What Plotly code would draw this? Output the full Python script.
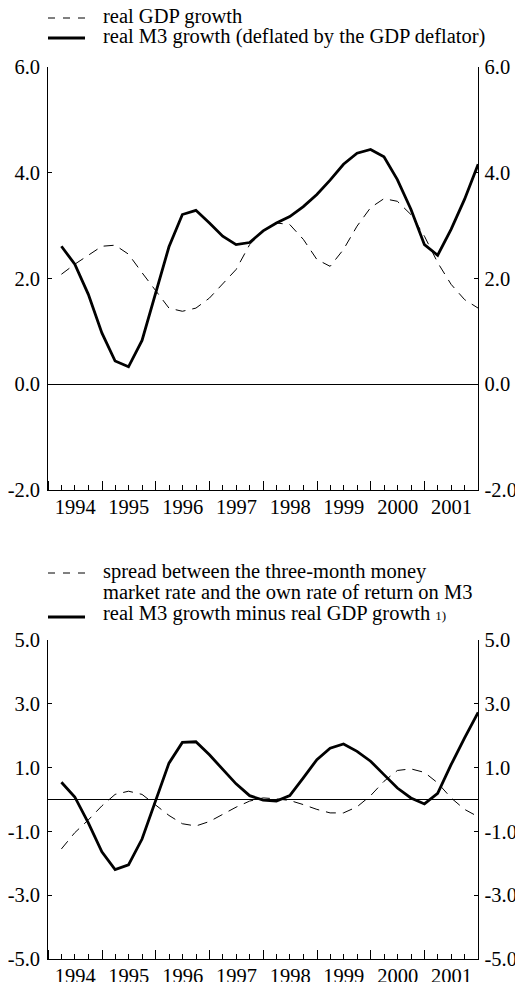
import plotly.graph_objects as go

# ---------------- data ----------------
quarters = [
    "1994-03-31", "1994-06-30", "1994-09-30", "1994-12-31",
    "1995-03-31", "1995-06-30", "1995-09-30", "1995-12-31",
    "1996-03-31", "1996-06-30", "1996-09-30", "1996-12-31",
    "1997-03-31", "1997-06-30", "1997-09-30", "1997-12-31",
    "1998-03-31", "1998-06-30", "1998-09-30", "1998-12-31",
    "1999-03-31", "1999-06-30", "1999-09-30", "1999-12-31",
    "2000-03-31", "2000-06-30", "2000-09-30", "2000-12-31",
    "2001-03-31", "2001-06-30", "2001-09-30", "2001-12-31",
]

real_gdp_growth = [
    2.08, 2.27, 2.44, 2.61, 2.63, 2.46, 2.11, 1.77,
    1.44, 1.38, 1.44, 1.63, 1.89, 2.17, 2.64, 2.90,
    3.05, 3.02, 2.74, 2.36, 2.23, 2.55, 2.99, 3.34,
    3.51, 3.46, 3.21, 2.80, 2.30, 1.89, 1.60, 1.44,
]
real_m3_growth = [
    2.61, 2.27, 1.70, 0.97, 0.44, 0.33, 0.83, 1.73,
    2.60, 3.21, 3.29, 3.05, 2.80, 2.64, 2.68, 2.90,
    3.05, 3.17, 3.36, 3.59, 3.86, 4.16, 4.37, 4.44,
    4.30, 3.87, 3.31, 2.64, 2.44, 2.93, 3.50, 4.16,
]

spread = [
    -1.55, -1.04, -0.64, -0.20, 0.16, 0.26, 0.16, -0.16,
    -0.50, -0.76, -0.83, -0.69, -0.47, -0.24, -0.05, 0.05,
    0.02, -0.03, -0.16, -0.31, -0.42, -0.42, -0.23, 0.12,
    0.57, 0.91, 0.96, 0.85, 0.52, 0.05, -0.31, -0.54,
]
m3_minus_gdp = [
    0.54, 0.08, -0.73, -1.64, -2.20, -2.05, -1.24, -0.05,
    1.14, 1.79, 1.81, 1.40, 0.93, 0.49, 0.12, -0.02,
    -0.05, 0.12, 0.68, 1.25, 1.61, 1.74, 1.51, 1.20,
    0.78, 0.36, 0.05, -0.14, 0.19, 1.09, 1.93, 2.73,
]

top_ticks = [6.0, 4.0, 2.0, 0.0, -2.0]
top_ticktext = ["6.0", "4.0", "2.0", "0.0", "-2.0"]
bot_ticks = [5.0, 3.0, 1.0, -1.0, -3.0, -5.0]
bot_ticktext = ["5.0", "3.0", "1.0", "-1.0", "-3.0", "-5.0"]

legend_top = ["real GDP growth", "real M3 growth (deflated by the GDP deflator)"]
legend_bot = ["spread between the three-month money",
              "market rate and the own rate of return on M3",
              "real M3 growth minus real GDP growth"]
footnote_mark = "1)"

# ---------------- layout helpers ----------------
W, H = 523, 982
OFF = 8          # page body margin of the html page
FONT = "Liberation Serif"
FS = 20.5


def px(x):
    return (x - OFF) / W


def py(y):
    return 1 - (y - OFF) / H


X0, X1 = 48.3, 478.3
TOP_Y0, TOP_Y1 = 67, 490
BOT_Y0, BOT_Y1 = 640, 959

DASH = "10px,7px"
LEG_DASH = "7px,8px"

fig = go.Figure()

fig.add_trace(go.Scatter(x=quarters, y=real_gdp_growth, mode="lines",
                         line=dict(color="black", width=1, dash=DASH),
                         xaxis="x", yaxis="y", showlegend=False, hoverinfo="skip"))
fig.add_trace(go.Scatter(x=quarters, y=real_m3_growth, mode="lines",
                         line=dict(color="black", width=2.8),
                         xaxis="x", yaxis="y", showlegend=False, hoverinfo="skip"))
fig.add_trace(go.Scatter(x=quarters, y=spread, mode="lines",
                         line=dict(color="black", width=1, dash=DASH),
                         xaxis="x2", yaxis="y3", showlegend=False, hoverinfo="skip"))
fig.add_trace(go.Scatter(x=quarters, y=m3_minus_gdp, mode="lines",
                         line=dict(color="black", width=2.8),
                         xaxis="x2", yaxis="y3", showlegend=False, hoverinfo="skip"))
# invisible companions so the right-hand axes get drawn
fig.add_trace(go.Scatter(x=quarters, y=real_m3_growth, mode="lines", opacity=0,
                         line=dict(width=0), xaxis="x", yaxis="y2",
                         showlegend=False, hoverinfo="skip"))
fig.add_trace(go.Scatter(x=quarters, y=m3_minus_gdp, mode="lines", opacity=0,
                         line=dict(width=0), xaxis="x2", yaxis="y4",
                         showlegend=False, hoverinfo="skip"))

xcommon = dict(
    type="date", range=["1994-01-01", "2002-01-01"],
    tick0="1994-01-01", dtick="M12", ticklabelmode="period", tickformat="%Y",
    ticks="inside", ticklen=9, tickwidth=1, tickcolor="black",
    minor=dict(dtick="M3", tick0="1994-01-01", ticks="inside", ticklen=5,
               tickwidth=1, tickcolor="black", showgrid=False),
    showline=True, linecolor="black", linewidth=1.2,
    showgrid=False, zeroline=False, fixedrange=True, automargin=False,
    tickfont=dict(family=FONT, size=FS, color="black"),
    ticklabelstandoff=-2,
)

ycommon = dict(
    showline=True, linecolor="black", linewidth=1.2,
    ticks="inside", ticklen=4, tickwidth=1, tickcolor="black",
    showgrid=False, fixedrange=True, automargin=False,
    tickfont=dict(family=FONT, size=FS, color="black"),
)

fig.update_layout(
    width=W, height=H,
    margin=dict(l=0, r=0, t=0, b=0),
    paper_bgcolor="white", plot_bgcolor="white",
    showlegend=False,
    font=dict(family=FONT, size=FS, color="black"),
    xaxis=dict(domain=[px(X0), px(X1)], anchor="y", **xcommon),
    xaxis2=dict(domain=[px(X0), px(X1)], anchor="y3", **xcommon),
    yaxis=dict(domain=[py(TOP_Y1), py(TOP_Y0)], anchor="x", range=[-2, 6],
               tickvals=top_ticks, ticktext=top_ticktext, side="left",
               zeroline=True, zerolinecolor="black", zerolinewidth=1,
               ticklabelstandoff=3, **ycommon),
    yaxis2=dict(domain=[py(TOP_Y1), py(TOP_Y0)], anchor="x", overlaying="y",
                range=[-2, 6], tickvals=top_ticks, ticktext=top_ticktext,
                side="right", zeroline=False, ticklabelstandoff=1, **ycommon),
    yaxis3=dict(domain=[py(BOT_Y1), py(BOT_Y0)], anchor="x2", range=[-5, 5],
                tickvals=bot_ticks, ticktext=bot_ticktext, side="left",
                zeroline=True, zerolinecolor="black", zerolinewidth=1,
                ticklabelstandoff=3, **ycommon),
    yaxis4=dict(domain=[py(BOT_Y1), py(BOT_Y0)], anchor="x2", overlaying="y3",
                range=[-5, 5], tickvals=bot_ticks, ticktext=bot_ticktext,
                side="right", zeroline=False, ticklabelstandoff=1, **ycommon),
)

# ---------------- hand-drawn legends ----------------
SYM_X0, SYM_X1, TXT_X = 48, 85, 101


def legend_symbol(y_sym, dashed):
    fig.add_shape(type="line", xref="paper", yref="paper",
                  x0=px(SYM_X0), x1=px(SYM_X1), y0=py(y_sym), y1=py(y_sym),
                  line=dict(color="black", width=1 if dashed else 2.8,
                            dash=LEG_DASH if dashed else "solid"))


def legend_text(x_txt, y_txt, text, size=FS):
    fig.add_annotation(xref="paper", yref="paper", x=px(x_txt), y=py(y_txt),
                       xanchor="left", yanchor="middle", align="left",
                       text=text, showarrow=False,
                       font=dict(family=FONT, size=size, color="black"))


legend_symbol(18, True)
legend_text(TXT_X, 17, legend_top[0])
legend_symbol(38, False)
legend_text(TXT_X, 37, legend_top[1])

legend_symbol(573, True)
legend_text(TXT_X, 571, legend_bot[0])
legend_text(TXT_X, 592, legend_bot[1])
legend_symbol(617, False)
legend_text(TXT_X, 613,
            legend_bot[2] + ' <span style="font-size:13px">' + footnote_mark + '</span>')

fig.write_html("out.html")
